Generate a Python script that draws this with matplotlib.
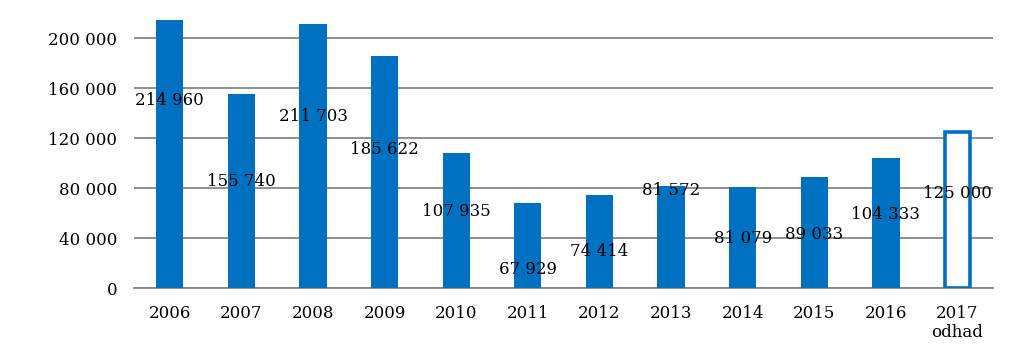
import numpy as np
import matplotlib.pyplot as plt

# data
years = ["2006", "2007", "2008", "2009", "2010", "2011", "2012", "2013",
         "2014", "2015", "2016", "2017\nodhad"]
values = [214960, 155740, 211703, 185622, 107935, 67929, 74414, 81572,
          81079, 89033, 104333, 125000]
estimate = [False] * 11 + [True]
# where Excel happened to put the data labels (y, in data units)
label_y = [150000, 85000, 137500, 111000, 61000, 14500, 29500, 78500,
           39500, 43000, 58500, 76000]

yticks = [0, 40000, 80000, 120000, 160000, 200000]

def fmt(v):
    return f"{v:,}".replace(",", " ")

plt.rcParams['font.family'] = ['DejaVu Serif']
blue = "#0070C0"
grid = "#878787"
fs = 12

fig = plt.figure(figsize=(10.23, 3.53), dpi=100)
ax = fig.add_axes([0.131, 0.184, 0.840, 0.796])

x = np.arange(len(years))
for i, v in enumerate(values):
    if estimate[i]:
        ax.bar(x[i], v, width=0.36, facecolor="white", edgecolor=blue, linewidth=2.6, zorder=3)
    else:
        ax.bar(x[i], v, width=0.38, color=blue, zorder=3)
    ax.text(x[i], label_y[i], fmt(v), ha="center", va="center", fontsize=fs, zorder=4)

ax.set_xlim(-0.5, len(years) - 0.5)
ax.set_ylim(0, 225000)
ax.set_yticks(yticks)
ax.set_yticklabels([fmt(t) for t in yticks], fontsize=fs)
ax.set_xticks(x)
ax.set_xticklabels(years, fontsize=fs, linespacing=1.2)
ax.tick_params(axis="y", length=0, pad=12)
ax.tick_params(axis="x", length=0, pad=12)
ax.yaxis.grid(True, color=grid, linewidth=1.3, zorder=0)
for s in ["left", "right", "top"]:
    ax.spines[s].set_visible(False)
ax.spines["bottom"].set_color(grid)
ax.spines["bottom"].set_linewidth(1.3)

fig.savefig("out.png", dpi=100)
